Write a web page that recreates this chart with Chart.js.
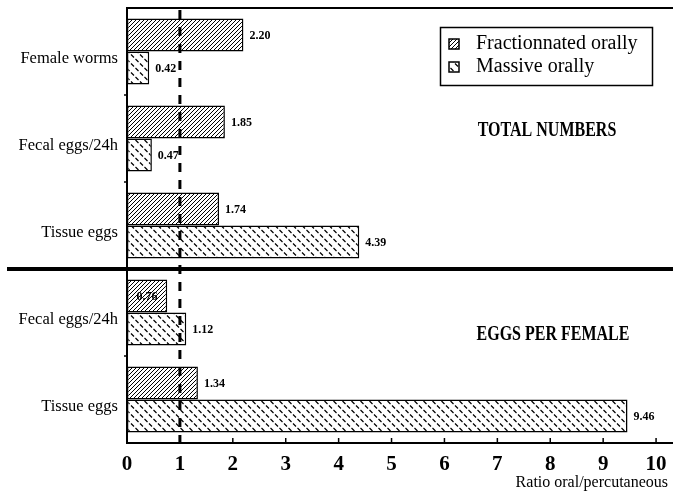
<!DOCTYPE html>
<html><head><meta charset="utf-8">
<script src="https://cdn.jsdelivr.net/npm/chart.js@4/dist/chart.umd.min.js"></script>
<style>html,body{margin:0;padding:0;background:#fff}canvas{display:block}</style>
</head><body>
<canvas id="c" width="673" height="492"></canvas>
<script>
const categories = ["Female worms", "Fecal eggs/24h", "Tissue eggs", "Fecal eggs/24h", "Tissue eggs"];
const fractionnated = [2.20, 1.85, 1.74, 0.76, 1.34];
const massive = [0.42, 0.47, 4.39, 1.12, 9.46];
const seriesNames = ["Fractionnated orally", "Massive orally"];
const xTicks = [0, 1, 2, 3, 4, 5, 6, 7, 8, 9, 10];
const sectionTitles = ["TOTAL NUMBERS", "EGGS PER FEMALE"];
const referenceValue = 1;
const axisTitle = "Ratio oral/percutaneous";

const SERIF = '"Liberation Serif", "Times New Roman", serif';
const canvas = document.getElementById('c');
const mainCtx = canvas.getContext('2d');

function makeHatch() {
  const t = document.createElement('canvas'); t.width = 4; t.height = 4;
  const g = t.getContext('2d');
  g.fillStyle = '#fff'; g.fillRect(0, 0, 4, 4);
  g.strokeStyle = '#000'; g.lineWidth = 1;
  g.beginPath();
  g.moveTo(-1, 5); g.lineTo(5, -1);
  g.moveTo(-1, 1); g.lineTo(1, -1);
  g.moveTo(3, 5); g.lineTo(5, 3);
  g.stroke();
  return mainCtx.createPattern(t, 'repeat');
}
function makeDashes() {
  const t = document.createElement('canvas'); t.width = 9; t.height = 9;
  const g = t.getContext('2d');
  g.fillStyle = '#fff'; g.fillRect(0, 0, 9, 9);
  g.strokeStyle = '#000'; g.lineWidth = 1.2; g.lineCap = 'butt';
  g.beginPath();
  g.moveTo(0.5, 5); g.lineTo(3.5, 8);
  g.moveTo(5, 0.5); g.lineTo(8, 3.5);
  g.stroke();
  return mainCtx.createPattern(t, 'repeat');
}
const patterns = [makeHatch(), makeDashes()];

const decor = {
  id: 'decor',
  afterDatasetsDraw(chart) {
    const ctx = chart.ctx;
    const xs = chart.scales.x, ys = chart.scales.y;
    const ca = chart.chartArea;
    ctx.save();
    ctx.strokeStyle = '#000'; ctx.fillStyle = '#000';

    // top border line
    ctx.lineWidth = 2;
    ctx.beginPath(); ctx.moveTo(ca.left - 1, ca.top); ctx.lineTo(chart.width, ca.top); ctx.stroke();

    // x axis tick marks (upward)
    ctx.lineWidth = 1.5;
    xTicks.forEach(v => {
      const px = xs.getPixelForValue(v);
      ctx.beginPath(); ctx.moveTo(px, ca.bottom); ctx.lineTo(px, ca.bottom - 5); ctx.stroke();
    });
    // y axis boundary ticks
    for (let i = 0; i < categories.length - 1; i++) {
      const py = (ys.getPixelForValue(i) + ys.getPixelForValue(i + 1)) / 2;
      ctx.beginPath(); ctx.moveTo(ca.left - 3, py); ctx.lineTo(ca.left, py); ctx.stroke();
    }

    // section separator
    const sepY = (ys.getPixelForValue(2) + ys.getPixelForValue(3)) / 2;
    ctx.lineWidth = 4;
    ctx.beginPath(); ctx.moveTo(7, sepY); ctx.lineTo(chart.width, sepY); ctx.stroke();

    // dashed reference line
    const rx = xs.getPixelForValue(referenceValue);
    ctx.lineWidth = 3; ctx.setLineDash([9, 8]);
    ctx.beginPath(); ctx.moveTo(rx, ca.top + 2); ctx.lineTo(rx, ca.bottom); ctx.stroke();
    ctx.setLineDash([]);

    // value labels
    ctx.font = 'bold 12px ' + SERIF;
    ctx.textBaseline = 'middle';
    chart.data.datasets.forEach((ds, di) => {
      const meta = chart.getDatasetMeta(di);
      meta.data.forEach((bar, i) => {
        const txt = ds.data[i].toFixed(2);
        const sx = bar.x + 6;
        if (sx > rx - 14 && sx < rx + 2) {
          ctx.textAlign = 'center';
          ctx.fillText(txt, (bar.base + bar.x) / 2, bar.y + 1);
        } else {
          ctx.textAlign = 'left';
          ctx.fillText(txt, sx, bar.y + 1);
        }
      });
    });

    // section titles (condensed serif bold)
    const titleY = [ys.getPixelForValue(1) - 8, ys.getPixelForValue(3) + 22];
    const titleX = [547, 553];
    ctx.font = 'bold 20px ' + SERIF;
    ctx.textAlign = 'center'; ctx.textBaseline = 'middle';
    sectionTitles.forEach((t, i) => {
      ctx.save();
      ctx.translate(titleX[i], titleY[i]);
      ctx.scale(0.8, 1);
      ctx.fillText(t, 0, 0);
      ctx.restore();
    });

    // legend
    ctx.lineWidth = 1.5;
    ctx.strokeRect(440.5, 27.5, 212, 58);
    ctx.font = '20px ' + SERIF;
    ctx.textAlign = 'left'; ctx.textBaseline = 'middle';
    seriesNames.forEach((n, i) => {
      const iy = 39 + i * 23;
      ctx.fillStyle = patterns[i];
      ctx.fillRect(449, iy, 10, 10);
      ctx.strokeRect(449, iy, 10, 10);
      ctx.fillStyle = '#000';
      ctx.fillText(n, 476, iy + 5);
    });

    // axis title
    ctx.font = '16px ' + SERIF;
    ctx.textAlign = 'right'; ctx.textBaseline = 'alphabetic';
    ctx.fillText(axisTitle, 668, 487);
    ctx.restore();
  }
};

new Chart(canvas, {
  type: 'bar',
  data: {
    labels: categories,
    datasets: [
      { label: seriesNames[0], data: fractionnated, backgroundColor: patterns[0], borderColor: '#000', borderWidth: 1.5, borderSkipped: false },
      { label: seriesNames[1], data: massive, backgroundColor: patterns[1], borderColor: '#000', borderWidth: 1.5, borderSkipped: false }
    ]
  },
  options: {
    indexAxis: 'y',
    responsive: false,
    animation: false,
    devicePixelRatio: 1,
    layout: { padding: { top: 8, left: 0, right: 0, bottom: 0 } },
    datasets: { bar: { categoryPercentage: 0.76, barPercentage: 1.0 } },
    plugins: { legend: { display: false }, tooltip: { enabled: false } },
    scales: {
      x: {
        type: 'linear', min: 0, max: 10.32,
        afterBuildTicks: s => { s.ticks = xTicks.map(v => ({ value: v })); },
        afterFit: s => { s.height = 49; s.paddingLeft = 0; s.paddingRight = 0; },
        grid: { display: false, drawTicks: false },
        border: { display: true, color: '#000', width: 2 },
        ticks: { color: '#000', padding: 9, font: { family: SERIF, size: 21, weight: 'bold' }, maxRotation: 0, autoSkip: false }
      },
      y: {
        afterFit: s => { s.width = 127; s.paddingTop = 0; s.paddingBottom = 0; },
        grid: { display: false, drawTicks: false },
        border: { display: true, color: '#000', width: 2 },
        ticks: { color: '#000', padding: 9, labelOffset: 7, font: { family: SERIF, size: 16.5 }, autoSkip: false }
      }
    }
  },
  plugins: [decor]
});
</script>
</body></html>
